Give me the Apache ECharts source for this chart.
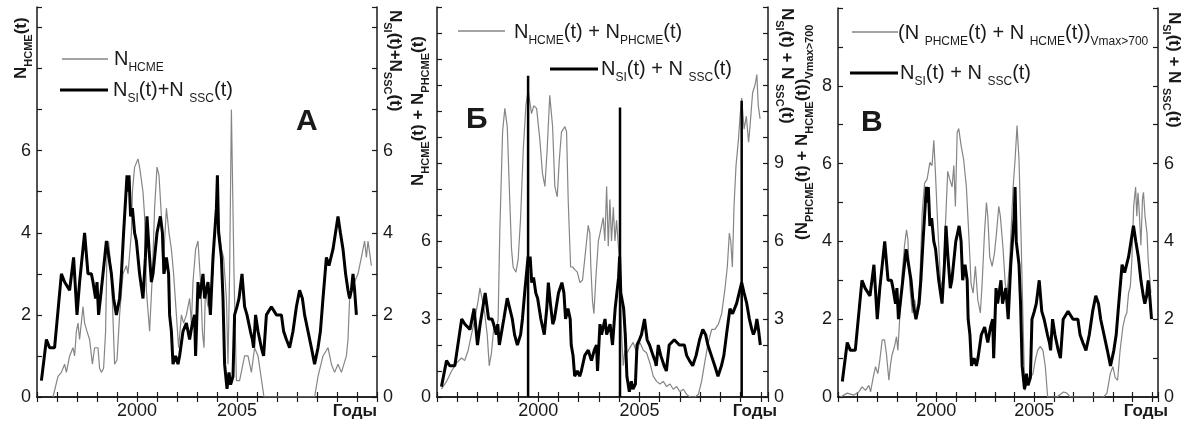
<!DOCTYPE html>
<html>
<head>
<meta charset="utf-8">
<script src="https://cdn.jsdelivr.net/npm/echarts/dist/echarts.min.js"></script>
<style>
  html, body { margin: 0; padding: 0; background: #fff; }
  #chart { width: 1190px; height: 425px; }
</style>
</head>
<body>
<div id="chart"></div>
<script>
// N_SI(t) + N_SSC(t): sudden impulses plus storm sudden commencements, [year, count]
const siSsc = [
  [1995.22,0.4],[1995.47,1.4],[1995.63,1.2],[1995.88,1.2],[1996.22,3.0],[1996.38,2.8],[1996.63,2.6],[1996.72,2.6],
  [1996.83,3.4],[1997.00,2.0],[1997.13,2.8],[1997.38,4.0],[1997.55,3.0],[1997.72,3.0],[1997.80,2.8],[1997.93,2.4],
  [1998.00,2.8],[1998.08,2.0],[1998.17,2.4],[1998.30,3.0],[1998.47,3.8],[1998.55,3.8],[1998.72,3.0],[1998.83,2.4],
  [1998.97,2.0],[1999.13,2.4],[1999.22,3.0],[1999.33,4.0],[1999.50,5.4],[1999.57,5.0],[1999.60,5.4],[1999.68,4.4],
  [1999.77,4.6],[1999.88,4.0],[1999.97,3.8],[2000.13,3.0],[2000.30,2.4],[2000.42,3.4],[2000.50,4.4],[2000.60,3.6],
  [2000.72,2.8],[2000.80,3.0],[2001.00,4.0],[2001.17,4.4],[2001.27,4.0],[2001.35,3.0],[2001.42,3.0],[2001.47,3.4],
  [2001.58,3.0],[2001.63,2.0],[2001.72,1.6],[2001.80,0.8],[2001.93,1.0],[2002.05,0.8],[2002.13,1.0],[2002.30,1.6],
  [2002.47,1.8],[2002.63,1.4],[2002.77,1.8],[2002.88,2.0],[2002.93,1.0],[2003.05,2.8],[2003.13,2.4],[2003.30,3.0],
  [2003.38,2.4],[2003.55,2.8],[2003.67,2.0],[2003.80,3.4],[2003.97,4.6],[2004.02,5.4],[2004.08,4.0],[2004.22,3.4],
  [2004.30,2.4],[2004.38,0.8],[2004.50,0.2],[2004.60,0.6],[2004.68,0.3],[2004.80,0.5],[2004.88,2.0],[2005.00,2.2],
  [2005.10,2.4],[2005.25,3.0],[2005.38,2.2],[2005.50,2.0],[2005.67,1.6],[2005.77,1.4],[2005.83,1.2],[2005.93,2.0],
  [2006.05,1.6],[2006.22,1.2],[2006.33,1.0],[2006.47,2.0],[2006.72,2.2],[2006.97,2.0],[2007.22,2.0],[2007.33,1.6],
  [2007.47,1.4],[2007.63,1.2],[2007.80,1.6],[2007.97,2.2],[2008.13,2.6],[2008.27,2.4],[2008.38,2.0],[2008.55,1.6],
  [2008.72,1.2],[2008.88,0.8],[2009.05,1.2],[2009.17,1.6],[2009.30,2.4],[2009.47,3.4],[2009.60,3.2],[2009.68,3.2],
  [2009.80,3.6],[2010.05,4.4],[2010.17,4.0],[2010.30,3.6],[2010.43,3.0],[2010.55,2.6],[2010.63,2.4],[2010.72,2.6],
  [2010.80,3.0],[2010.88,2.6],[2010.97,2.0]
];

// N_HCME(t): halo CMEs
const hcme = [
  [1995.80,0],[1996.05,0.5],[1996.22,0.6],[1996.38,0.8],[1996.47,0.6],[1996.63,1.0],[1996.80,1.2],[1996.88,1.0],
  [1996.97,1.6],[1997.05,1.8],[1997.13,1.4],[1997.30,2.2],[1997.38,1.8],[1997.50,1.6],[1997.63,1.4],[1997.77,0.8],
  [1997.88,1.2],[1998.05,1.2],[1998.13,0.7],[1998.22,0.6],[1998.33,0.7],[1998.43,1.6],[1998.50,3.6],[1998.58,3.8],
  [1998.72,3.0],[1998.88,0.8],[1999.00,0.9],[1999.13,2.0],[1999.30,3.0],[1999.47,3.2],[1999.55,3.0],[1999.72,4.0],
  [1999.77,5.0],[1999.88,5.6],[2000.05,5.8],[2000.13,5.6],[2000.30,5.0],[2000.38,4.4],[2000.47,2.6],[2000.63,1.6],
  [2000.77,3.0],[2000.88,4.6],[2001.00,5.6],[2001.10,5.4],[2001.22,4.4],[2001.30,3.0],[2001.38,3.8],[2001.47,4.6],
  [2001.60,4.0],[2001.72,3.6],[2001.83,3.0],[2001.97,2.0],[2002.08,1.2],[2002.22,2.0],[2002.33,1.8],[2002.47,2.0],
  [2002.63,2.4],[2002.72,1.8],[2002.80,2.8],[2002.93,3.6],[2003.05,3.8],[2003.10,3.4],[2003.18,2.8],[2003.27,1.6],
  [2003.35,1.2],[2003.42,2.6],[2003.55,2.2],[2003.67,2.6],[2003.80,3.0],[2003.88,4.0],[2004.00,5.0],[2004.13,4.0],
  [2004.22,3.6],[2004.33,3.4],[2004.47,2.4],[2004.55,0.8],[2004.63,3.0],[2004.72,7.0],[2004.85,3.0],[2004.97,0.4],
  [2005.13,0.4],[2005.38,1.0],[2005.55,1.0],[2005.72,0.6],[2005.88,1.2],[2006.05,1.0],[2006.35,0],[2007.50,0],
  [2008.88,0],[2009.05,0.5],[2009.30,1.0],[2009.55,1.2],[2009.72,0.8],[2009.88,0.6],[2010.05,0.8],[2010.22,0.6],
  [2010.47,1.0],[2010.55,1.4],[2010.63,2.4],[2010.88,2.8],[2011.05,3.0],[2011.22,3.4],[2011.38,3.8],[2011.47,3.4],
  [2011.55,3.8],[2011.72,3.2]
];

// N_HCME(t) + N_PHCME(t): halo plus partial-halo CMEs
const hcmePhcme = [
  [1995.22,0.3],[1995.47,0.6],[1995.72,1.0],[1995.96,1.3],[1996.21,1.5],[1996.37,1.4],[1996.54,1.8],[1996.70,2.4],
  [1996.87,3.0],[1997.03,3.7],[1997.12,4.2],[1997.25,3.7],[1997.36,3.2],[1997.48,2.4],[1997.58,1.2],[1997.69,1.7],
  [1997.81,2.7],[1997.91,2.4],[1998.02,3.0],[1998.10,6.3],[1998.24,10.2],[1998.35,11.1],[1998.47,10.4],[1998.57,8.1],
  [1998.68,5.7],[1998.76,5.0],[1998.90,4.8],[1999.01,5.3],[1999.13,6.9],[1999.26,9.5],[1999.39,11.2],[1999.50,11.8],
  [1999.67,10.9],[1999.78,11.2],[1999.92,11.1],[2000.08,9.9],[2000.21,8.6],[2000.33,8.1],[2000.44,9.5],[2000.57,11.6],
  [2000.71,10.4],[2000.82,8.1],[2000.94,7.7],[2001.04,9.1],[2001.15,10.2],[2001.32,10.4],[2001.40,10.2],[2001.48,7.6],
  [2001.60,5.0],[2001.70,5.0],[2001.81,4.9],[2001.93,4.8],[2002.06,4.4],[2002.19,4.5],[2002.31,5.4],[2002.39,6.0],
  [2002.47,6.6],[2002.55,6.3],[2002.60,5.0],[2002.68,3.7],[2002.75,3.2],[2002.85,4.6],[2002.97,6.0],[2003.08,6.4],
  [2003.21,6.9],[2003.29,6.0],[2003.38,8.1],[2003.46,5.8],[2003.54,7.6],[2003.62,6.0],[2003.71,7.3],[2003.79,6.0],
  [2003.87,6.8],[2003.95,5.9],[2004.04,5.0],[2004.12,2.4],[2004.20,1.2],[2004.28,1.8],[2004.40,1.7],[2004.53,1.9],
  [2004.69,2.1],[2004.86,1.7],[2005.02,2.1],[2005.19,1.8],[2005.35,1.7],[2005.52,1.3],[2005.68,0.8],[2005.85,0.6],
  [2006.01,0.5],[2006.18,0.6],[2006.34,0.4],[2006.51,0.5],[2006.67,0.3],[2006.84,0.4],[2007.00,0.2],[2007.17,0.3],
  [2007.33,0.1],[2007.50,0],[2007.74,0],[2007.91,0.1],[2008.07,0.6],[2008.24,1.4],[2008.40,2.1],[2008.57,2.6],
  [2008.73,2.6],[2008.90,2.8],[2009.06,3.2],[2009.23,4.2],[2009.34,5.0],[2009.44,6.3],[2009.51,6.0],[2009.59,5.0],
  [2009.67,7.3],[2009.77,8.9],[2009.89,9.9],[2009.97,10.8],[2010.05,11.5],[2010.17,10.3],[2010.28,10.8],[2010.39,9.8],
  [2010.46,10.4],[2010.59,11.7],[2010.71,12.0],[2010.80,12.4],[2010.87,11.2],[2010.96,10.7]
];

// (N_PHCME(t) + N_HCME(t)) for CMEs with Vmax > 700 km/s
const fastCme = [
  [1995.13,0],[1995.47,0.1],[1995.81,0.05],[1996.06,0.13],[1996.23,0.26],[1996.40,0.17],[1996.57,0.3],[1996.66,0.13],
  [1996.79,0.5],[1996.91,0.78],[1997.03,0.6],[1997.13,0.95],[1997.25,1.47],[1997.37,1.47],[1997.47,1.1],[1997.59,0.43],
  [1997.68,0.86],[1997.76,1.1],[1997.88,1.3],[1997.98,1.55],[1998.05,1.2],[1998.15,2.07],[1998.27,3.2],[1998.39,3.9],
  [1998.49,4.3],[1998.56,4.05],[1998.66,2.84],[1998.78,2.16],[1998.90,2.5],[1999.03,2.16],[1999.17,3.0],[1999.29,4.74],
  [1999.41,5.5],[1999.54,5.6],[1999.68,6.03],[1999.79,5.95],[1999.88,6.6],[1999.96,5.8],[2000.08,4.4],[2000.22,3.0],
  [2000.35,2.76],[2000.47,4.4],[2000.59,5.8],[2000.69,5.6],[2000.81,5.4],[2000.90,5.95],[2000.98,4.9],[2001.07,6.8],
  [2001.15,6.9],[2001.27,6.47],[2001.40,6.1],[2001.54,5.4],[2001.66,4.2],[2001.78,2.9],[2001.88,2.67],[2002.00,3.36],
  [2002.12,2.5],[2002.25,2.16],[2002.34,2.9],[2002.46,4.2],[2002.56,5.0],[2002.63,4.65],[2002.73,3.6],[2002.85,3.36],
  [2002.97,3.7],[2003.07,4.2],[2003.19,4.9],[2003.27,4.65],[2003.41,3.8],[2003.52,2.9],[2003.61,2.67],[2003.73,3.36],
  [2003.81,4.2],[2003.92,5.4],[2004.02,6.1],[2004.12,6.98],[2004.22,6.1],[2004.32,4.2],[2004.42,2.07],[2004.51,0.17],
  [2004.63,0.34],[2004.80,0.5],[2004.93,0.6],[2005.05,0.95],[2005.17,1.2],[2005.30,1.3],[2005.44,1.2],[2005.56,0.78],
  [2005.68,0],[2006.15,0],[2006.49,0.13],[2006.66,0.1],[2006.83,0],[2008.53,0],[2008.70,0.1],[2008.87,0.6],
  [2009.00,0.78],[2009.12,0.5],[2009.24,0.43],[2009.37,1.2],[2009.51,1.8],[2009.63,2.07],[2009.71,2.16],[2009.80,2.67],
  [2009.89,2.84],[2009.97,3.53],[2010.06,4.9],[2010.16,5.4],[2010.22,4.65],[2010.28,5.25],[2010.33,4.9],[2010.43,3.9],
  [2010.51,5.1],[2010.56,5.26],[2010.64,4.65],[2010.74,4.2],[2010.80,3.53],[2010.89,3.0],[2010.94,2.67]
];

// Isolated maxima of N_SI + N_SSC marked in panel Б
const peakYears = [1999.50, 2004.04, 2010.05];
const peakValues = [12.36, 11.13, 11.39];

// Tick labels
const xTickLabels = [2000, 2005];
const yTickLabels = [
  { left: [0, 2, 4, 6], right: [0, 2, 4, 6] },
  { left: [0, 3, 6], right: [0, 3, 6, 9] },
  { left: [0, 2, 4, 6, 8], right: [0, 2, 4, 6] }
];
const panelLetters = ['А', 'Б', 'В'];
const xAxisName = 'Годы';

// ---- layout ----
const FONT = '"Liberation Sans", Arial, Helvetica, sans-serif';
const INK = '#1a1a1a';
const GRAY = '#858585';
const panels = [
  { left: 37,  top: 7, width: 340, height: 390, xMax: 2012,    yMax: 9.5 },
  { left: 437, top: 7, width: 331, height: 390, xMax: 2011.35, yMax: 15 },
  { left: 838, top: 8, width: 320, height: 389, xMax: 2011.3,  yMax: 10 }
];

const axisLine = { lineStyle: { color: INK, width: 1.5 } };
const axisTick = { inside: true, length: 5, lineStyle: { color: INK, width: 1.2 } };
const labelStyle = { color: INK, fontSize: 18, fontFamily: FONT };

const grids = [], xAxes = [], yAxes = [];
panels.forEach((p, i) => {
  grids.push({ left: p.left, top: p.top, width: p.width, height: p.height });
  const xBase = { type: 'value', gridIndex: i, min: 1995, max: p.xMax, interval: 1,
                  axisLine, axisTick, splitLine: { show: false } };
  xAxes.push(Object.assign({}, xBase, { position: 'bottom',
    axisLabel: Object.assign({}, labelStyle, { margin: 5,
      formatter: v => xTickLabels.includes(v) ? String(v) : '' }) }));
  xAxes.push(Object.assign({}, xBase, { position: 'top', axisLabel: { show: false } }));
  ['left', 'right'].forEach(side => {
    const shown = yTickLabels[i][side];
    yAxes.push({ type: 'value', gridIndex: i, position: side, min: 0, max: p.yMax, interval: 1,
      axisLine, axisTick, splitLine: { show: false },
      axisLabel: Object.assign({}, labelStyle, { margin: 6,
        formatter: v => shown.includes(v) ? String(v) : '' }) });
  });
});

const grayLine = (data, i) => ({ type: 'line', data, xAxisIndex: 2 * i, yAxisIndex: 2 * i,
  symbol: 'none', lineStyle: { color: GRAY, width: 1.2 }, z: 2 });
const blackLine = (data, i) => ({ type: 'line', data, xAxisIndex: 2 * i, yAxisIndex: 2 * i + 1,
  symbol: 'none', lineStyle: { color: '#000', width: 3 }, z: 3 });

const series = [
  grayLine(hcme, 0), blackLine(siSsc, 0),
  grayLine(hcmePhcme, 1), blackLine(siSsc, 1),
  { type: 'bar', xAxisIndex: 2, yAxisIndex: 3, barWidth: 2.5, z: 4,
    itemStyle: { color: '#000' },
    data: peakYears.map((y, k) => [y, peakValues[k]]) },
  grayLine(fastCme, 2), blackLine(siSsc, 2)
];

// ---- rich text for labels with subscripts ----
function richText(x, y, text, opts) {
  const o = Object.assign({ size: 20, sub: 12, bold: false, rotation: 0, align: 'left' }, opts || {});
  const w = o.bold ? 'bold' : 'normal';
  return {
    type: 'text', x, y, rotation: o.rotation, z: 10,
    style: {
      text, fill: INK, align: o.align, verticalAlign: 'middle',
      textAlign: o.align, textVerticalAlign: 'middle',
      rich: {
        m: { fontSize: o.size, fontFamily: FONT, fontWeight: w, fill: INK,
             lineHeight: o.size + 10, verticalAlign: 'middle' },
        s: { fontSize: o.sub, fontFamily: FONT, fontWeight: w, fill: INK,
             lineHeight: o.sub, verticalAlign: 'bottom' }
      }
    }
  };
}
function legendLine(x1, x2, y, color, width) {
  return { type: 'line', z: 10, shape: { x1, y1: y, x2, y2: y },
           style: { stroke: color, lineWidth: width } };
}
function plainText(x, y, text, size, align) {
  return { type: 'text', x, y, z: 10,
    style: { text, fill: INK, font: 'bold ' + size + 'px ' + FONT,
             align, verticalAlign: 'middle', textAlign: align, textVerticalAlign: 'middle' } };
}

const UP = Math.PI / 2, DOWN = -Math.PI / 2;
const siSscText = '{m|N}{s|SI}{m|(t) + N }{s|SSC}{m|(t)}';
const graphic = [
  // panel А
  legendLine(62, 108, 59, GRAY, 1.3),
  richText(114, 59, '{m|N}{s|HCME}'),
  legendLine(60, 108, 90, '#000', 3),
  richText(113, 90, '{m|N}{s|SI}{m|(t)+N }{s|SSC}{m|(t)}'),
  plainText(296, 122, panelLetters[0], 30, 'left'),
  richText(21, 79, '{m|N}{s|HCME}{m|(t)}', { size: 17, sub: 11, bold: true, rotation: UP }),
  richText(395, 10, '{m|N}{s|SI}{m|(t)+N}{s|SSC}{m|(t)}', { size: 17, sub: 11, bold: true, rotation: DOWN }),
  plainText(377, 411, xAxisName, 17, 'right'),

  // panel Б
  legendLine(458, 505, 31, GRAY, 1.3),
  richText(514, 32, '{m|N}{s|HCME}{m|(t) + N}{s|PHCME}{m|(t)}'),
  legendLine(550, 598, 69, '#000', 3),
  richText(601, 69, siSscText),
  plainText(466, 120, panelLetters[1], 30, 'left'),
  richText(418, 186, '{m|N}{s|HCME}{m|(t) + N}{s|PHCME}{m|(t)}', { size: 17, sub: 11, bold: true, rotation: UP }),
  richText(787, 8, siSscText, { size: 17, sub: 11, bold: true, rotation: DOWN }),
  plainText(777, 411, xAxisName, 17, 'right'),

  // panel В
  legendLine(852, 898, 32, GRAY, 1.3),
  richText(898, 33, '{m|(N }{s|PHCME}{m|(t) + N }{s|HCME}{m|(t))}{s|Vmax>700}'),
  legendLine(850, 898, 73, '#000', 3),
  richText(900, 73, siSscText),
  plainText(861, 123, panelLetters[2], 30, 'left'),
  richText(802, 240, '{m|(N}{s|PHCME}{m|(t) + N}{s|HCME}{m|(t))}{s|Vmax>700}', { size: 17, sub: 11, bold: true, rotation: UP }),
  richText(1174, 12, siSscText, { size: 17, sub: 11, bold: true, rotation: DOWN }),
  plainText(1168, 411, xAxisName, 17, 'right')
];

const chart = echarts.init(document.getElementById('chart'), null, { renderer: 'canvas' });
chart.setOption({
  animation: false,
  backgroundColor: '#fff',
  grid: grids,
  xAxis: xAxes,
  yAxis: yAxes,
  series,
  graphic
});
</script>
</body>
</html>
